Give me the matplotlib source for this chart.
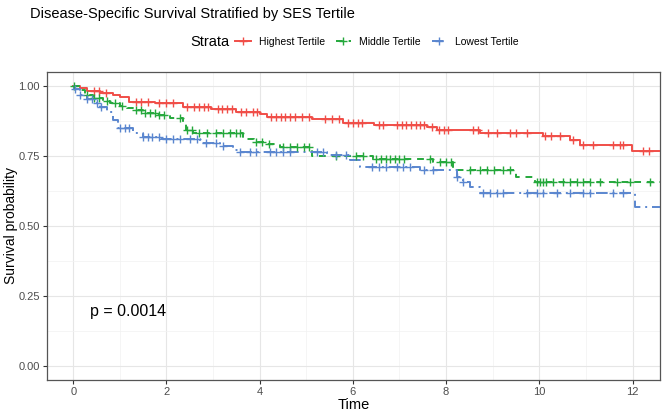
import numpy as np
import matplotlib
matplotlib.use("Agg")
import matplotlib.pyplot as plt
from matplotlib.lines import Line2D
from matplotlib.ticker import MultipleLocator, FormatStrFormatter

plt.rcParams['font.family'] = ['Liberation Sans', 'DejaVu Sans']

# ---------------- data ----------------
strata = ["Highest Tertile", "Middle Tertile", "Lowest Tertile"]

high_t = [0, 0.14, 0.3, 0.57, 0.85, 1.0, 1.2, 1.75, 2.35, 2.95, 3.5, 4.0, 4.15, 5.12,
          5.79, 6.45, 7.58, 7.8, 8.73, 10.08, 10.66, 10.87, 11.98]
high_s = [1.0, 0.993, 0.982, 0.975, 0.968, 0.958, 0.943, 0.937, 0.925, 0.916, 0.907,
          0.898, 0.889, 0.881, 0.868, 0.860, 0.851, 0.842, 0.832, 0.820, 0.806, 0.788, 0.767]
high_cens = [0.45, 0.55, 0.7, 1.35, 1.45, 1.6, 1.85, 2.0, 2.15, 2.45, 2.6, 2.7, 2.8, 2.9,
             3.1, 3.2, 3.3, 3.4, 3.6, 3.7, 3.85, 3.95, 4.25, 4.35, 4.45, 4.55, 4.65, 4.75,
             4.9, 5.05, 5.4, 5.55, 5.7, 5.9, 6.0, 6.1, 6.2, 6.55, 6.65, 6.95, 7.05, 7.15,
             7.25, 7.35, 7.45, 7.52, 7.7, 7.85, 7.95, 8.05, 8.58, 8.68, 8.9, 9.09, 9.37,
             9.51, 9.73, 10.12, 10.25, 10.44, 10.73, 10.94, 11.16, 11.59, 11.73, 11.8,
             12.23, 12.35]

mid_t = [0, 0.14, 0.25, 0.43, 0.64, 0.79, 1.0, 1.15, 1.29, 1.5, 1.79, 2.07, 2.36, 2.42,
         2.57, 3.65, 3.87, 4.15, 4.43, 5.12, 6.43, 7.72, 8.15, 9.5, 9.9]
mid_s = [1.0, 0.985, 0.967, 0.955, 0.946, 0.937, 0.927, 0.919, 0.913, 0.904, 0.895, 0.884,
         0.866, 0.842, 0.832, 0.809, 0.800, 0.792, 0.782, 0.749, 0.740, 0.729, 0.699,
         0.675, 0.657]
mid_cens = [0.02, 0.3, 0.45, 0.55, 0.72, 0.9, 1.05, 1.35, 1.45, 1.55, 1.65, 1.75, 1.85,
            1.95, 2.29, 2.45, 2.55, 2.7, 2.86, 3.07, 3.22, 3.36, 3.5, 3.58, 3.93, 4.05,
            4.2, 4.5, 4.65, 4.8, 4.95, 5.05, 5.64, 6.07, 6.22, 6.5, 6.6, 6.7, 6.8, 6.9,
            7.0, 7.1, 7.65, 7.86, 8.0, 8.1, 8.51, 8.73, 8.87, 9.02, 9.23, 9.37, 9.94,
            10.01, 10.08, 10.15, 10.3, 10.51, 10.65, 10.8, 10.94, 11.08, 11.3, 11.66,
            11.94, 12.37]

low_t = [0, 0.02, 0.14, 0.29, 0.5, 0.57, 0.72, 0.86, 0.96, 1.29, 1.5, 1.86, 2.72, 3.15,
         3.43, 3.58, 5.45, 5.94, 6.15, 7.44, 8.23, 8.37, 8.51, 8.73, 12.05]
low_s = [1.0, 0.987, 0.967, 0.951, 0.939, 0.925, 0.907, 0.878, 0.848, 0.830, 0.818,
         0.809, 0.794, 0.785, 0.770, 0.764, 0.752, 0.735, 0.711, 0.699, 0.675, 0.657,
         0.639, 0.618, 0.568]
low_cens = [0.03, 0.15, 0.3, 0.4, 0.5, 0.6, 1.0, 1.1, 1.2, 1.5, 1.6, 1.7, 1.85, 2.0,
            2.15, 2.3, 2.5, 2.65, 2.85, 3.07, 3.22, 3.58, 3.79, 3.93, 4.22, 4.36, 4.5,
            4.65, 5.22, 5.36, 5.64, 5.86, 6.42, 6.55, 6.7, 6.94, 7.08, 7.23, 7.52, 7.72,
            8.23, 8.37, 8.8, 8.94, 9.09, 9.23, 9.73, 9.94, 10.08, 10.37, 10.66, 10.94,
            11.08, 11.59, 11.8]

x_max = 12.59
colors = ["#F04E48", "#25A83C", "#5A86CF"]
dashes = [None, (3.5, 3.0), (6.0, 2.5, 1.0, 2.5)]
p_text = "p = 0.0014"
title = "Disease-Specific Survival Stratified by SES Tertile"

# ---------------- figure ----------------
fig = plt.figure(figsize=(6.68, 4.15), dpi=100)
ax = fig.add_axes([46.7 / 668, 35 / 415, (660 - 46.7) / 668, (380 - 71.7) / 415])

series = [(high_t, high_s, high_cens), (mid_t, mid_s, mid_cens), (low_t, low_s, low_cens)]
for (t, s, c), col, d in zip(series, colors, dashes):
    tt = np.append(t, x_max)
    ss = np.append(s, s[-1])
    ln, = ax.step(tt, ss, where='post', color=col, lw=1.4, zorder=3)
    if d is not None:
        ln.set_dashes(d)
    c = np.asarray(c)
    idx = np.searchsorted(np.asarray(t), c, side='right') - 1
    cy = np.asarray(s)[idx]
    ax.plot(c, cy, linestyle='none', marker='+', markersize=6, mew=1.0, color=col, zorder=4)

ax.set_xlim(-0.57, x_max)
ax.set_ylim(-0.051, 1.05)
ax.xaxis.set_major_locator(MultipleLocator(2))
ax.xaxis.set_minor_locator(MultipleLocator(1))
ax.yaxis.set_major_locator(MultipleLocator(0.25))
ax.yaxis.set_minor_locator(MultipleLocator(0.125))
ax.yaxis.set_major_formatter(FormatStrFormatter('%.2f'))

ax.grid(which='major', color='#E6E6E6', lw=0.8, zorder=0)
ax.grid(which='minor', color='#F2F2F2', lw=0.5, zorder=0)
ax.set_axisbelow(True)
for sp in ax.spines.values():
    sp.set_color('#555555')
    sp.set_linewidth(0.9)
ax.tick_params(which='major', length=3, width=0.8, color='#333333',
               labelsize=8, labelcolor='#4D4D4D', pad=2)
ax.tick_params(which='minor', length=0)

ax.set_xlabel("Time", fontsize=10.5, labelpad=1)
ax.set_ylabel("Survival probability", fontsize=10)
ax.yaxis.set_label_coords(-0.046, 0.5)

ax.text(0.36, 0.195, p_text, fontsize=11.5, ha='left', va='center')

fig.text(30 / 668, 1 - 14 / 415, title, fontsize=10.5, ha='left', va='center')

# legend
fig.text(190 / 668, 1 - 42 / 415, "Strata", fontsize=10.5, ha='left', va='center')
handles = [Line2D([], [], color=col, lw=1.4, marker='+', markersize=6, mew=1.0)
           for col in colors]
for h, d in zip(handles, dashes):
    if d is not None:
        h.set_dashes(d)
leg = fig.legend(handles, strata, loc='center left', bbox_to_anchor=(235 / 668, 1 - 42 / 415),
                 ncol=3, frameon=False, fontsize=7.5, handlelength=1.5, handletextpad=0.8,
                 columnspacing=1.0, borderaxespad=0, borderpad=0)

fig.savefig("out.png", dpi=100)
